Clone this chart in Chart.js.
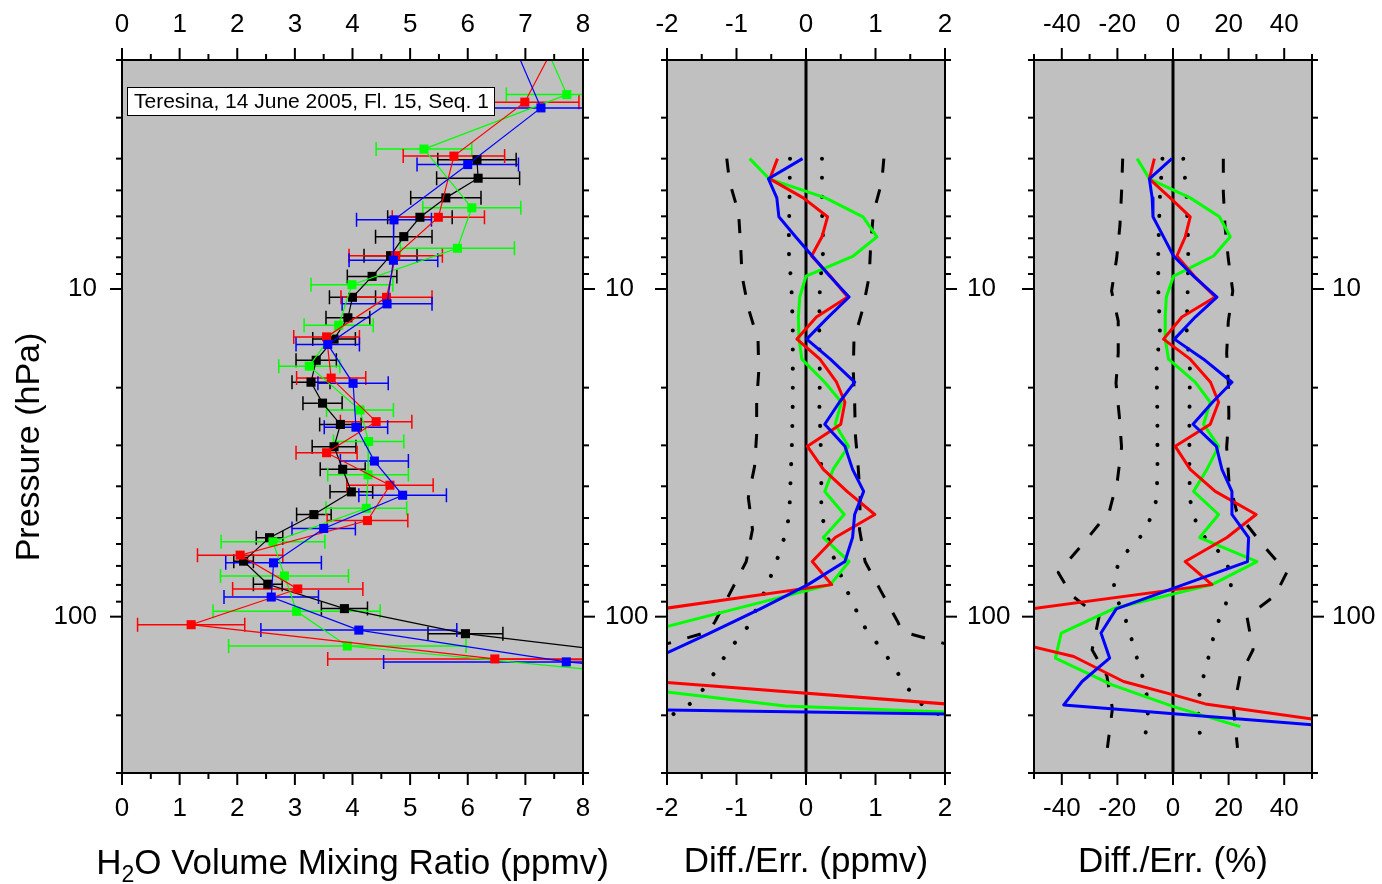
<!DOCTYPE html>
<html><head><meta charset="utf-8">
<script src="https://cdn.jsdelivr.net/npm/chart.js@4/dist/chart.umd.min.js"></script>
<style>
html,body{margin:0;padding:0;background:#fff;}
#wrap{position:relative;width:1382px;height:884px;}
canvas{position:absolute;left:0;top:0;width:1382px;height:884px;}
</style></head><body>
<div id="wrap">
<canvas id="c1" width="1382" height="884"></canvas>
<canvas id="c2" width="1382" height="884"></canvas>
<canvas id="c3" width="1382" height="884"></canvas>
</div>
<script>
// ---------- Left panel: H2O volume mixing ratio (ppmv) vs pressure (hPa) ----------
// (null error = point lies outside the plotted window, no error bar shown)
const blackP   = [4.03,4.59,5.27,6.04,6.92,7.91,9.15,10.6,12.24,14.22,16.5,19.25,22.3,25.9,30.3,35.5,41.6,48.8,57.4,67.7,79.6,94.5,112.7,129.7];
const blackVMR = [6.16,6.18,5.62,5.17,4.89,4.66,4.34,4.00,3.92,3.68,3.37,3.28,3.48,3.79,3.68,3.83,3.98,3.33,2.56,2.11,2.53,3.86,5.96,8.9];
const blackErr = [0.68,0.72,0.61,0.56,0.49,0.46,0.43,0.40,0.38,0.37,0.35,0.33,0.34,0.36,0.38,0.39,0.37,0.30,0.23,0.17,0.25,0.40,0.65,null];

const redP   = [1.8,2.69,3.93,6.04,7.91,10.6,14.0,18.7,25.4,31.6,39.7,50.9,64.9,82.3,105.8,134.6,137];
const redVMR = [7.51,6.99,5.76,5.49,4.75,4.59,3.55,3.63,4.41,3.55,4.65,4.26,2.05,3.05,1.20,6.47,11];
const redErr = [null,0.94,0.88,0.80,0.81,0.79,0.57,0.60,0.62,0.53,0.75,0.70,0.74,1.13,0.93,2.9,null];

const blueP   = [1.8,2.80,4.17,6.15,8.17,11.1,14.76,19.4,26.4,33.5,42.6,53.8,68.5,87.1,109.9,137.4,150];
const blueVMR = [6.8,7.27,6.00,4.72,4.71,4.60,3.57,4.01,4.06,4.38,4.87,3.50,2.63,2.59,4.11,7.71,10];
const blueErr = [null,0.92,0.88,0.65,0.77,0.78,0.55,0.61,0.55,0.59,0.76,0.55,0.83,0.82,1.70,3.17,null];

const greenP   = [1.8,2.55,3.74,5.65,7.51,9.70,12.9,17.2,23.4,29.2,36.9,46.7,59.1,75.1,96.3,122.9,150];
const greenVMR = [7.34,7.72,5.24,6.07,5.82,3.99,3.76,3.25,4.13,4.28,4.27,4.24,2.62,2.82,3.03,3.91,9];
const greenErr = [null,1.05,0.83,0.85,0.99,0.71,0.60,0.53,0.58,0.61,0.70,0.70,0.90,1.11,1.45,2.06,null];

// ---------- Difference panels ----------
const diffLevels = [4.00,4.61,5.27,6.02,6.93,7.93,9.13,10.58,12.18,14.22,16.37,19.25,22.16,25.87,30.21,35.52,41.47,48.77,57.34,67.88,79.83];

const redPpmvP   = diffLevels.concat([94.5,112.7,132.5,157.0,218.6]);
const redPpmv    = [-0.41,-0.52,-0.04,0.31,0.23,0.08,0.35,0.60,0.15,-0.13,0.20,0.44,0.56,0.50,0.02,0.25,0.59,0.99,0.42,0.09,0.37,-2.05,-3.4,-3.5,-2.3,6.5];
const greenPpmvP = diffLevels.concat([94.5,112.7,133.5,161.4,187.2,217.1]);
const greenPpmv  = [-0.81,-0.53,0.28,0.82,1.02,0.68,0.0,-0.09,-0.11,-0.10,-0.06,0.27,0.51,0.42,0.61,0.39,0.27,0.55,0.25,0.62,0.35,-1.0,-2.4,-3.0,-2.9,-0.3,7.5];
const bluePpmvP  = diffLevels.concat([94.5,112.7,133.5,158.1,185.9,218.6]);
const bluePpmv   = [-0.05,-0.54,-0.42,-0.39,-0.15,0.09,0.34,0.62,0.32,0.01,0.35,0.70,0.48,0.27,0.56,0.67,0.83,0.70,0.67,0.56,0.03,-0.65,-1.40,-2.15,-4.0,-7.0,16.0];

const redPctP   = diffLevels.concat([94.5,112.7,132.3,157.7,173.2,184.6,218.6]);
const redPct    = [-6.7,-8.5,-1.0,6.2,4.4,1.4,7.6,15.2,3.2,-3.4,6.2,13.5,16.4,13.4,0.8,6.2,15.2,29.9,19.4,4.4,14.0,-50.5,-70,-35.7,-17.8,0.2,11.6,72.6];
const greenPctP = diffLevels.concat([94.05,112.2,133.8,161.4,188.1,216.6]);
const greenPct  = [-12.9,-8.5,6.2,16.7,20.6,14.6,0.2,-2.4,-2.8,-2.8,-1.6,8.0,13.4,11.0,16.4,12.2,7.4,16.4,9.6,30.2,14.0,-20.7,-40.2,-42.3,-21.9,0.2,24.2];
const bluePctP  = diffLevels.concat([94.7,112.2,133.8,157.7,185.9,218.6]);
const bluePct   = [-0.4,-8.5,-7.5,-7.2,-3.4,0.2,7.4,15.8,8.0,0.5,11.0,21.2,14.2,7.2,15.6,17.6,21.2,21.2,27.2,26.8,3.8,-20.4,-25.9,-22.8,-32.7,-39.3,64];

// error envelopes
const dashPpmvP  = [4.00,4.71,5.86,7.39,9.13,11.43,14.32,17.81,22.16,27.77,34.77,43.27,54.19,67.88,84.46,103.6,111.1,118.4,126.2,179.4,251.5];
const dashPpmvLo = [-1.14,-1.10,-0.97,-0.94,-0.92,-0.83,-0.69,-0.68,-0.71,-0.71,-0.74,-0.83,-0.77,-0.86,-1.09,-1.31,-1.40,-1.85,-2.3,-2.4,-2.3];
const dashPpmvHi = [1.12,1.09,0.97,0.93,0.91,0.82,0.69,0.68,0.70,0.71,0.75,0.78,0.77,0.85,1.09,1.32,1.38,1.85,2.3,2.4,2.3];
const dotPpmvP   = [4.00,5.77,7.55,9.79,12.98,19.25,22.00,28.76,37.31,48.77,55.35,63.73,72.84,83.3,94.52,108.05,123.5,141.2,161.4,184.6,200.9,237.8];
const dotPpmvLo  = [-0.23,-0.24,-0.25,-0.21,-0.19,-0.19,-0.19,-0.20,-0.22,-0.24,-0.29,-0.38,-0.48,-0.59,-0.71,-0.85,-1.07,-1.26,-1.42,-1.67,-1.95,-2.4];
const dotPpmvHi  = [0.23,0.23,0.25,0.20,0.19,0.20,0.19,0.21,0.22,0.22,0.30,0.37,0.48,0.59,0.71,0.85,1.06,1.26,1.42,1.66,1.95,2.4];

const dashPctP  = [4.00,5.05,6.42,8.10,10.14,12.53,15.70,19.39,24.46,30.42,38.37,47.75,58.98,73.36,86.27,100,126.2,151.5,191.2,251.5];
const dashPctLo = [-18.1,-18.5,-19.1,-20.3,-22.1,-19.7,-19.7,-20.5,-19.3,-18.5,-20.0,-22.9,-31.7,-41.3,-36.3,-26.6,-29.1,-23.8,-21.8,-23.6];
const dashPctHi = [18.1,18.1,18.7,19.9,21.5,19.9,19.3,19.9,20.1,19.3,20.1,22.9,31.3,40.9,36.7,26.6,28.8,24.1,21.8,23.2];
const dotPctP   = [4.00,5.23,7.55,10.0,13.25,17.56,24.98,35.52,43.87,50.50,57.34,65.96,75.46,85.66,97.22,111.9,127.9,146.3,167.2,189.8,217.1,249.8];
const dotPctLo  = [-3.8,-4.7,-5.3,-5.3,-4.7,-5.9,-5.6,-5.6,-5.9,-8.3,-11.9,-18.5,-21.5,-20.9,-17.9,-15.5,-13.7,-11.5,-9.7,-8.9,-9.5,-10.7];
const dotPctHi  = [3.7,4.9,5.5,5.3,4.9,6.1,5.9,5.9,6.1,7.9,11.5,18.5,21.1,20.5,17.5,14.9,13.3,11.5,9.7,9.1,9.1,10.9];

// ---------- axes ----------
const pRange = [2, 300];
const pMajor = [10, 100];
const pMinor = [2,3,4,5,6,7,8,9,20,30,40,50,60,70,80,90,200,300];
const vmrRange = [0, 8];
const vmrMajor = [0,1,2,3,4,5,6,7,8];
const vmrMinor = [0.5,1.5,2.5,3.5,4.5,5.5,6.5,7.5];
const ppmvRange = [-2, 2];
const ppmvMajor = [-2,-1,0,1,2];
const ppmvMinor = [-1.5,-0.5,0.5,1.5];
const pctRange = [-50, 50];
const pctMajor = [-40,-20,0,20,40];
const pctMinor = [-50,-30,-10,10,30,50];
const zeroRef = 0;

const FONT = '"Liberation Sans", Arial, Helvetica, sans-serif';
const RED = '#ff0000', GREEN = '#00ff00', BLUE = '#0000ff', BLACK = '#000000';

const pts = (xs, ps) => xs.map((v, i) => ({x: v, y: ps[i]}));

const frameTicks = {
  id: 'frameTicks',
  beforeDraw(chart) {
    const {ctx, chartArea: a} = chart;
    ctx.save();
    ctx.fillStyle = '#c0c0c0';
    ctx.fillRect(a.left, a.top, a.right - a.left, a.bottom - a.top);
    ctx.restore();
  },
  afterDraw(chart) {
    const o = chart.options.plugins.frameTicks;
    const {ctx, chartArea: a, scales} = chart;
    const xs = scales.x, ys = scales.y;
    ctx.save();
    ctx.strokeStyle = '#000';
    ctx.lineWidth = 2;
    const seg = (x1, y1, x2, y2) => { ctx.beginPath(); ctx.moveTo(x1, y1); ctx.lineTo(x2, y2); ctx.stroke(); };
    [[o.xMajor, 12], [o.xMinor, 6]].forEach(([vals, len]) => vals.forEach(v => {
      const px = xs.getPixelForValue(v);
      seg(px, a.bottom, px, a.bottom + len);
      seg(px, a.top, px, a.top - len);
    }));
    [[o.yMajor, 12], [o.yMinor, 6]].forEach(([vals, len]) => vals.forEach(v => {
      const py = ys.getPixelForValue(v);
      seg(a.left, py, a.left - len, py);
      seg(a.right, py, a.right + len, py);
    }));
    ctx.strokeRect(a.left, a.top, a.right - a.left, a.bottom - a.top);
    ctx.restore();
  }
};

const errorBars = {
  id: 'errorBars',
  beforeDatasetsDraw(chart) {
    const {ctx, chartArea: a, scales: {x, y}} = chart;
    ctx.save();
    ctx.beginPath(); ctx.rect(a.left, a.top, a.right - a.left, a.bottom - a.top); ctx.clip();
    chart.data.datasets.slice().reverse().forEach(ds => {
      if (!ds.errs) return;
      ctx.strokeStyle = ds.borderColor;
      ctx.lineWidth = 1.5;
      ds.data.forEach((pt, i) => {
        const e = ds.errs[i];
        if (e == null) return;
        const py = y.getPixelForValue(pt.y);
        const x1 = x.getPixelForValue(pt.x - e), x2 = x.getPixelForValue(pt.x + e);
        ctx.beginPath();
        ctx.moveTo(x1, py); ctx.lineTo(x2, py);
        ctx.moveTo(x1, py - 7); ctx.lineTo(x1, py + 7);
        ctx.moveTo(x2, py - 7); ctx.lineTo(x2, py + 7);
        ctx.stroke();
      });
    });
    ctx.restore();
  }
};

const panel1Text = {
  id: 'panel1Text',
  afterDraw(chart) {
    const {ctx, chartArea: a} = chart;
    ctx.save();
    // annotation box
    ctx.fillStyle = '#fff';
    ctx.fillRect(127, 87, 368, 28);
    ctx.strokeStyle = '#000'; ctx.lineWidth = 1;
    ctx.strokeRect(127.5, 87.5, 367, 28);
    ctx.fillStyle = '#000';
    ctx.font = '21px ' + FONT;
    ctx.textBaseline = 'middle'; ctx.textAlign = 'left';
    ctx.fillText('Teresina, 14 June 2005, Fl. 15, Seq. 1', 134, 102);
    // x-axis title with subscript
    const big = '35px ' + FONT, small = '23px ' + FONT;
    ctx.textBaseline = 'alphabetic';
    ctx.font = big; const wH = ctx.measureText('H').width;
    const rest = 'O Volume Mixing Ratio (ppmv)';
    const wR = ctx.measureText(rest).width;
    ctx.font = small; const w2 = ctx.measureText('2').width;
    const cx = (a.left + a.right) / 2;
    let x0 = cx - (wH + w2 + wR) / 2;
    const base = 874;
    ctx.font = big; ctx.fillText('H', x0, base); x0 += wH;
    ctx.font = small; ctx.fillText('2', x0, base + 8); x0 += w2;
    ctx.font = big; ctx.fillText(rest, x0, base);
    // y-axis title
    ctx.font = '34px ' + FONT;
    ctx.translate(30, 447);
    ctx.rotate(-Math.PI / 2);
    ctx.textAlign = 'center'; ctx.textBaseline = 'middle';
    ctx.fillText('Pressure (hPa)', 0, 0);
    ctx.restore();
  }
};

function xScale(pos, range, majors, title) {
  return {
    type: 'linear', position: pos, min: range[0], max: range[1],
    afterBuildTicks: s => { s.ticks = majors.map(v => ({value: v})); },
    afterFit: s => { s.height = pos === 'bottom' ? 111 : 60; },
    grid: {display: false, drawTicks: false}, border: {display: false},
    ticks: {font: {family: FONT, size: 26}, color: '#000', padding: 20, maxRotation: 0, minRotation: 0, autoSkip: false, callback: v => String(v)},
    title: title ? {display: true, text: title, font: {family: FONT, size: 35}, color: '#000', padding: {top: 0, bottom: 1}} : {display: false}
  };
}
function yScale(pos, width, pad) {
  return {
    type: 'logarithmic', position: pos, min: pRange[0], max: pRange[1], reverse: true,
    afterBuildTicks: s => { s.ticks = pMajor.map(v => ({value: v})); },
    afterFit: s => { s.width = width; },
    grid: {display: false, drawTicks: false}, border: {display: false},
    ticks: {font: {family: FONT, size: 26}, color: '#000', padding: pad, autoSkip: false, callback: v => String(v)}
  };
}
function baseOptions(padLeft, xr, xMaj, xMin, xTitle, yScales) {
  return {
    responsive: false, animation: false, devicePixelRatio: 1,
    layout: {padding: {left: padLeft, right: 0, top: 0, bottom: 0}},
    plugins: {legend: {display: false}, tooltip: {enabled: false},
      frameTicks: {xMajor: xMaj, xMinor: xMin, yMajor: pMajor, yMinor: pMinor}},
    scales: Object.assign({x: xScale('bottom', xr, xMaj, xTitle), x2: xScale('top', xr, xMaj, null)}, yScales)
  };
}

const vmrSet = (xs, ps, errs, color) => ({
  data: pts(xs, ps), errs, showLine: true, borderColor: color, backgroundColor: color,
  borderWidth: 1.2, pointStyle: 'rect', pointRadius: 6.4, pointBorderWidth: 0, pointBackgroundColor: color
});
const lineSet = (xs, ps, color, width, dash, cap) => ({
  data: pts(xs, ps), showLine: true, borderColor: color, backgroundColor: color,
  borderWidth: width, pointRadius: 0, borderDash: dash || [], borderCapStyle: cap || 'butt', borderJoinStyle: 'round'
});
const envelope = (p, lo, hi, dash, w, cap) => [lineSet(lo, p, BLACK, w, dash, cap), lineSet(hi, p, BLACK, w, dash, cap)];
const zeroSet = () => lineSet(pRange.map(() => zeroRef), pRange, BLACK, 3);

new Chart(document.getElementById('c1'), {
  type: 'scatter',
  data: {datasets: [
    vmrSet(blueVMR, blueP, blueErr, BLUE),
    vmrSet(redVMR, redP, redErr, RED),
    vmrSet(greenVMR, greenP, greenErr, GREEN),
    vmrSet(blackVMR, blackP, blackErr, BLACK)
  ]},
  options: baseOptions(0, vmrRange, vmrMajor, vmrMinor, null, {y: yScale('left', 122, 25), y2: yScale('right', 799, 22)}),
  plugins: [frameTicks, errorBars, panel1Text]
});

const DASH = [14, 17], DOT = [0.1, 19];
new Chart(document.getElementById('c2'), {
  type: 'scatter',
  data: {datasets: [
    lineSet(bluePpmv, bluePpmvP, BLUE, 3),
    lineSet(redPpmv, redPpmvP, RED, 3),
    lineSet(greenPpmv, greenPpmvP, GREEN, 3),
    zeroSet(),
    ...envelope(dashPpmvP, dashPpmvLo, dashPpmvHi, DASH, 3, 'butt'),
    ...envelope(dotPpmvP, dotPpmvLo, dotPpmvHi, DOT, 4, 'round')
  ]},
  options: baseOptions(667, ppmvRange, ppmvMajor, ppmvMinor, 'Diff./Err. (ppmv)', {y: yScale('right', 437, 22)}),
  plugins: [frameTicks]
});

new Chart(document.getElementById('c3'), {
  type: 'scatter',
  data: {datasets: [
    lineSet(bluePct, bluePctP, BLUE, 3),
    lineSet(redPct, redPctP, RED, 3),
    lineSet(greenPct, greenPctP, GREEN, 3),
    zeroSet(),
    ...envelope(dashPctP, dashPctLo, dashPctHi, DASH, 3, 'butt'),
    ...envelope(dotPctP, dotPctLo, dotPctHi, DOT, 4, 'round')
  ]},
  options: baseOptions(1034, pctRange, pctMajor, pctMinor, 'Diff./Err. (%)', {y: yScale('right', 70, 20)}),
  plugins: [frameTicks]
});
</script>
</body></html>
